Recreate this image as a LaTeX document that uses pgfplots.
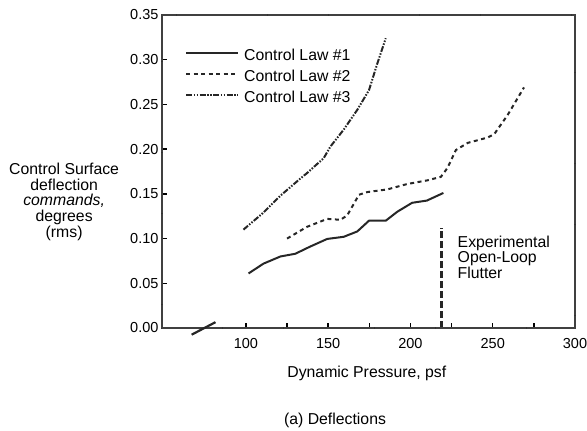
\documentclass[border=0pt]{standalone}
\usepackage{pgfplots}
\pgfplotsset{compat=1.18}
\usepackage{fontspec}
\setmainfont{Liberation Sans}
\begin{document}
\begin{tikzpicture}
\useasboundingbox (0pt,0pt) rectangle (587pt,431pt);
\begin{axis}[
  at={(162pt,103pt)}, anchor=south west,
  scale only axis, width=413pt, height=313pt,
  xmin=49, xmax=300, ymin=0, ymax=0.35,
  clip=false,
  axis line style={line width=2pt, black!80},
  xtick={100,150,200,250,300},
  minor xtick={125,175,225,275},
  ytick={0,0.05,...,0.35},
  tick align=inside,
  xtick pos=bottom, ytick pos=left,
  major tick length=5pt, minor tick length=5pt,
  tick style={line width=1.5pt, black},
  /pgf/number format/assume math mode=true,
  yticklabel style={/pgf/number format/.cd, fixed, fixed zerofill, precision=2},
  ticklabel style={font=\fontsize{14.5}{16}\selectfont},
  xticklabel style={yshift=-7pt},
  xlabel={Dynamic Pressure, psf},
  every axis x label/.style={at={(axis description cs:0.496,-0.144)}, anchor=center, font=\fontsize{15.8}{16}\selectfont},
  ylabel={Control Surface\\deflection\\\textit{commands,}\\degrees\\(rms)},
  every axis y label/.style={at={(axis description cs:-0.237,0.403)}, anchor=center, align=center, font=\fontsize{15.8}{15.8}\selectfont},
  legend style={at={(axis description cs:0.0557,0.889)}, anchor=north west, draw=none, fill=none, inner sep=0pt,
    font=\fontsize{15.8}{16}\selectfont,
    nodes={inner sep=0pt, text height=11pt, text depth=3pt}, row sep=7pt, column sep=5pt},
  legend cell align=left,
  legend image code/.code={\draw[#1] (0pt,4pt) -- (52pt,4pt);},
]
\addplot[black!85, line width=2pt] coordinates {
(101.6,0.061) (110.7,0.072) (121,0.080) (130,0.083) (139,0.091) (149.4,0.0996)
(159.5,0.102) (167.7,0.108) (174.8,0.120) (185,0.120) (192,0.130) (201,0.140)
(210,0.1425) (220,0.151)};
\addlegendentry{Control Law \#1}
\addplot[black!85, line width=2pt, dash pattern=on 4pt off 3.5pt] coordinates {
(125,0.100) (137,0.113) (149.4,0.122) (157.5,0.121) (161.6,0.126) (168.7,0.149)
(173.8,0.152) (186,0.155) (198,0.161) (210,0.165) (218.5,0.169) (222.5,0.179)
(227.6,0.199) (234.8,0.207) (247,0.213) (251,0.217) (259,0.238) (269,0.269)};
\addlegendentry{Control Law \#2}
\addplot[black!85, line width=2pt, dash pattern=on 6pt off 1.5pt on 1.5pt off 1.5pt on 1.5pt off 1.5pt] coordinates {
(98.5,0.110) (110,0.128) (121,0.148) (133,0.167) (137,0.173) (147.3,0.190)
(151.4,0.203) (159.5,0.222) (167.7,0.244) (174.8,0.266) (179.9,0.296) (185,0.324)};
\addlegendentry{Control Law \#3}
\addplot[black!85, line width=2.5pt, dash pattern=on 7pt off 3pt, forget plot] coordinates {(219,0) (219,0.112)};
\draw[black!75, line width=2.2pt, dash pattern=on 30pt off 0.4pt] (axis cs:49,0) -- (axis cs:300,0) -- (axis cs:300,0.35) -- (axis cs:49,0.35) -- cycle;
\draw[black!85, line width=2.2pt] (axis cs:67,-0.0075) -- (axis cs:81.5,0.0065);
\node[anchor=west, align=left, inner sep=0pt, font=\fontsize{15.8}{15.5}\selectfont] at (axis cs:228.6,0.0795) {Experimental\\Open-Loop\\Flutter};
\node[anchor=center, inner sep=0pt, font=\fontsize{15.8}{16}\selectfont] at (axis description cs:0.419,-0.294) {(a) Deflections};
\end{axis}
\end{tikzpicture}
\end{document}
